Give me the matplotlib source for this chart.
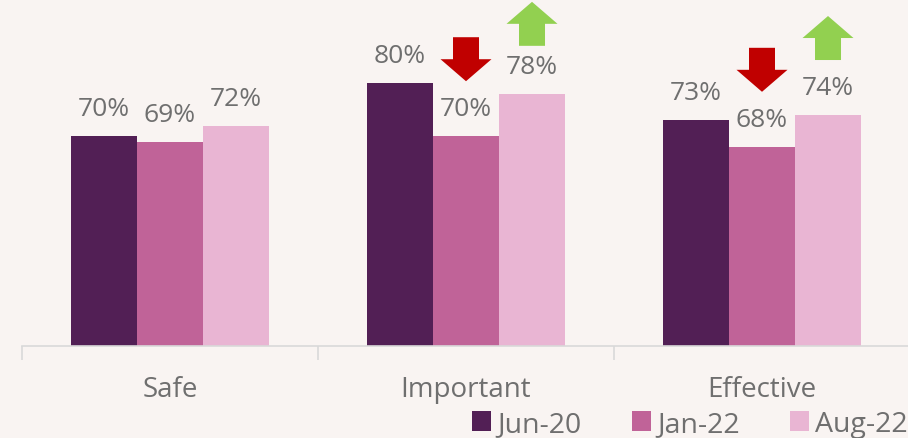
import numpy as np
import matplotlib
matplotlib.use("Agg")
import matplotlib.pyplot as plt
from matplotlib.patches import Polygon
import matplotlib.transforms as mtransforms

# data
categories = ["Safe", "Important", "Effective"]
series = ["Jun-20", "Jan-22", "Aug-22"]
jun20 = [70, 80, 73]
jan22 = [69, 70, 68]
aug22 = [72, 78, 74]
# arrows: (category index, series index, direction)
arrows = [(1, 1, "down"), (1, 2, "up"), (2, 1, "down"), (2, 2, "up")]

colors = ["#521f55", "#c06398", "#e9b5d3"]
bg = "#f9f4f2"
txt = "#6f6f6f"
plt.rcParams["font.family"] = ["Open Sans", "DejaVu Sans"]

W, H = 908, 439
fig = plt.figure(figsize=(W / 100, H / 100), dpi=100, facecolor=bg)
ax = fig.add_axes([22 / W, (H - 347) / H, 888 / W, 347 / H])
ax.set_facecolor(bg)

ymin, ymax = 30.4, 95.9
ax.set_xlim(-0.5, 2.5)
ax.set_ylim(ymin, ymax)

# px -> data conversions
px_x = 3.0 / 888
px_y = (ymax - ymin) / 347

x = np.arange(len(categories))
bw = 0.223
vals = [jun20, jan22, aug22]
for i, (name, v) in enumerate(zip(series, vals)):
    pos = x + (i - 1) * bw
    ax.bar(pos, v, width=bw, color=colors[i], label=name, zorder=2)
    for xp, val in zip(pos, v):
        ax.text(xp, val + 21 * px_y, "%d%%" % val, ha="center", va="baseline",
                fontsize=19, color=txt)

# arrows
def arrow_poly(cx, base, up):
    hw, sw = 25.5 * px_x, 13 * px_x
    h, hh = 44 * px_y, 22 * px_y
    if up:
        pts = [(cx - sw, base), (cx + sw, base), (cx + sw, base + h - hh),
               (cx + hw, base + h - hh), (cx, base + h), (cx - hw, base + h - hh),
               (cx - sw, base + h - hh)]
    else:
        pts = [(cx - sw, base + h), (cx + sw, base + h), (cx + sw, base + hh),
               (cx + hw, base + hh), (cx, base), (cx - hw, base + hh),
               (cx - sw, base + hh)]
    return pts

gap = {(1, 2): 48}
for ci, si, d in arrows:
    cx = x[ci] + (si - 1) * bw
    top = vals[si][ci]
    base = top + gap.get((ci, si), 55) * px_y
    col = "#c00000" if d == "down" else "#92d050"
    ax.add_patch(Polygon(arrow_poly(cx, base, d == "up"), closed=True,
                         facecolor=col, edgecolor="none", zorder=3, clip_on=False))

# axes styling
for s in ["top", "right", "left"]:
    ax.spines[s].set_visible(False)
ax.spines["bottom"].set_color("#d9d9d9")
ax.spines["bottom"].set_linewidth(1.2)
ax.set_yticks([])
ax.set_xticks([-0.5, 0.5, 1.5, 2.5])
ax.set_xticklabels([])
ax.tick_params(axis="x", length=10, color="#d9d9d9", width=1.2)

trans = mtransforms.blended_transform_factory(ax.transData, ax.transAxes)
for xi, c in zip(x, categories):
    ax.text(xi, -50 / 347, c, transform=trans, ha="center", va="baseline",
            fontsize=20, color=txt)

leg = fig.legend(loc="center right", bbox_to_anchor=(1.0, 1 - 425 / H), ncol=3,
                 frameon=False, fontsize=20.5, handlelength=0.68, handleheight=0.68,
                 handletextpad=0.22, columnspacing=1.75, borderpad=0, borderaxespad=0)
for t in leg.get_texts():
    t.set_color(txt)

fig.savefig("out.png", dpi=100, facecolor=bg)
